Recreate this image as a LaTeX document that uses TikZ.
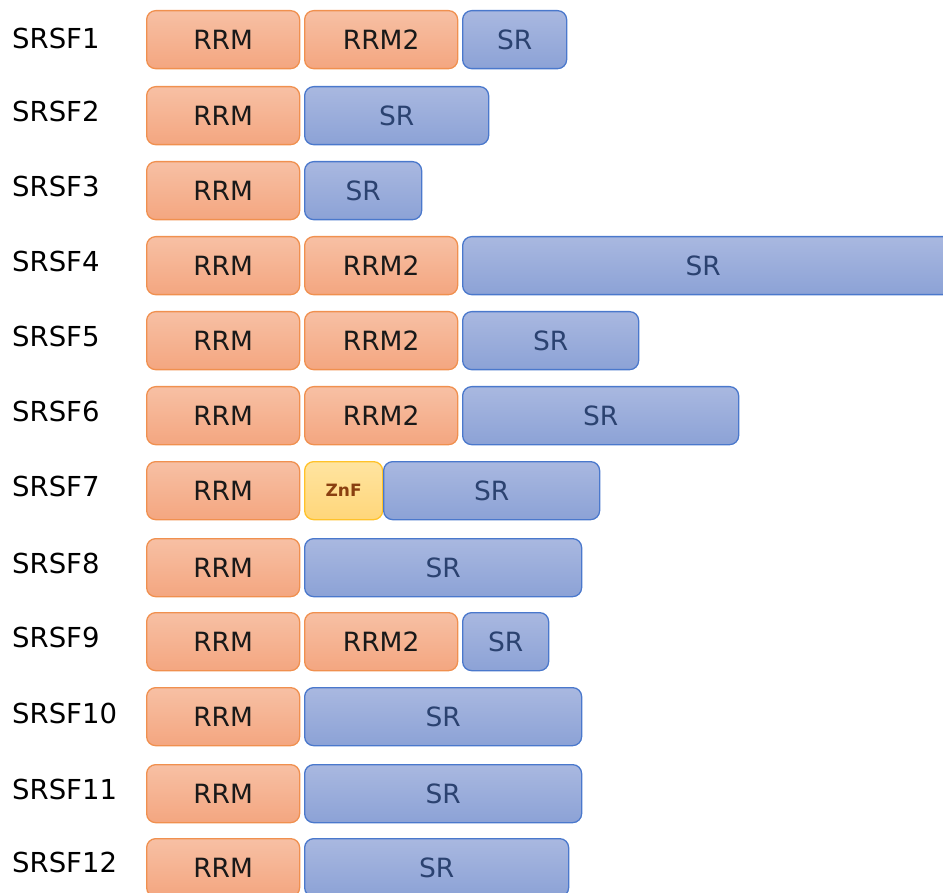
\documentclass[tikz,border=0pt]{standalone}
\usepackage{fontspec}
\setmainfont{DejaVu Sans}
\definecolor{rrmtop}{HTML}{F7C0A4}
\definecolor{rrmbot}{HTML}{F4A680}
\definecolor{rrmline}{HTML}{F0904F}
\definecolor{srtop}{HTML}{A9B8E0}
\definecolor{srbot}{HTML}{8CA2D6}
\definecolor{srline}{HTML}{4A78CC}
\definecolor{srtext}{HTML}{2B4270}
\definecolor{znftop}{HTML}{FFE4A0}
\definecolor{znfbot}{HTML}{FFD67A}
\definecolor{znfline}{HTML}{FFC22A}
\definecolor{znftext}{HTML}{8A3F10}
\begin{document}
\begin{tikzpicture}[x=1pt,y=-1pt,
  dombox/.style={rectangle,rounded corners=9pt,line width=1.3pt,inner sep=0pt,
    minimum height=58pt,anchor=north west,font=\fontsize{26.5}{26.5}\selectfont},
  rrm/.style={dombox,draw=rrmline,top color=rrmtop,bottom color=rrmbot,text=black!90,minimum width=153pt},
  sr/.style={dombox,draw=srline,top color=srtop,bottom color=srbot,text=srtext,minimum width=#1},
  znf/.style={dombox,draw=znfline,top color=znftop,bottom color=znfbot,text=znftext,
    minimum width=78pt,font=\bfseries\fontsize{17}{17}\selectfont},
  lbl/.style={anchor=west,inner sep=0pt,font=\fontsize{27.5}{27.5}\selectfont}]
\clip (0,0) rectangle (943,893);
% row 1
\node[lbl] (l1) at (12,38) {SRSF1};
\node[rrm] (a1) at (146,10) {RRM};
\node[rrm] (b1) at (304,10) {RRM2};
\node[sr=104pt] (c1) at (462,10) {SR};
% row 2
\node[lbl] (l2) at (12,111) {SRSF2};
\node[rrm] (a2) at (146,86) {RRM};
\node[sr=184pt] (c2) at (304,86) {SR};
% row 3
\node[lbl] (l3) at (12,186) {SRSF3};
\node[rrm] (a3) at (146,161) {RRM};
\node[sr=117pt] (c3) at (304,161) {SR};
% row 4
\node[lbl] (l4) at (12,261) {SRSF4};
\node[rrm] (a4) at (146,236) {RRM};
\node[rrm] (b4) at (304,236) {RRM2};
\node[sr=490pt] (c4) at (462,236) {\hspace*{-9pt}SR};
% row 5
\node[lbl] (l5) at (12,336) {SRSF5};
\node[rrm] (a5) at (146,311) {RRM};
\node[rrm] (b5) at (304,311) {RRM2};
\node[sr=176pt] (c5) at (462,311) {SR};
% row 6
\node[lbl] (l6) at (12,411) {SRSF6};
\node[rrm] (a6) at (146,386) {RRM};
\node[rrm] (b6) at (304,386) {RRM2};
\node[sr=276pt] (c6) at (462,386) {SR};
% row 7
\node[lbl] (l7) at (12,486) {SRSF7};
\node[rrm] (a7) at (146,461) {RRM};
\node[znf] (z7) at (304,461) {ZnF};
\node[sr=216pt] (c7) at (383,461) {SR};
% row 8
\node[lbl] (l8) at (12,563) {SRSF8};
\node[rrm] (a8) at (146,538) {RRM};
\node[sr=277pt] (c8) at (304,538) {SR};
% row 9
\node[lbl] (l9) at (12,637) {SRSF9};
\node[rrm] (a9) at (146,612) {RRM};
\node[rrm] (b9) at (304,612) {RRM2};
\node[sr=86pt] (c9) at (462,612) {SR};
% row 10
\node[lbl] (l10) at (12,713) {SRSF10};
\node[rrm] (a10) at (146,687) {RRM};
\node[sr=277pt] (c10) at (304,687) {SR};
% row 11
\node[lbl] (l11) at (12,789) {SRSF11};
\node[rrm] (a11) at (146,764) {RRM};
\node[sr=277pt] (c11) at (304,764) {SR};
% row 12
\node[lbl] (l12) at (12,862) {SRSF12};
\node[rrm] (a12) at (146,838) {RRM};
\node[sr=264pt] (c12) at (304,838) {SR};
\end{tikzpicture}
\end{document}
